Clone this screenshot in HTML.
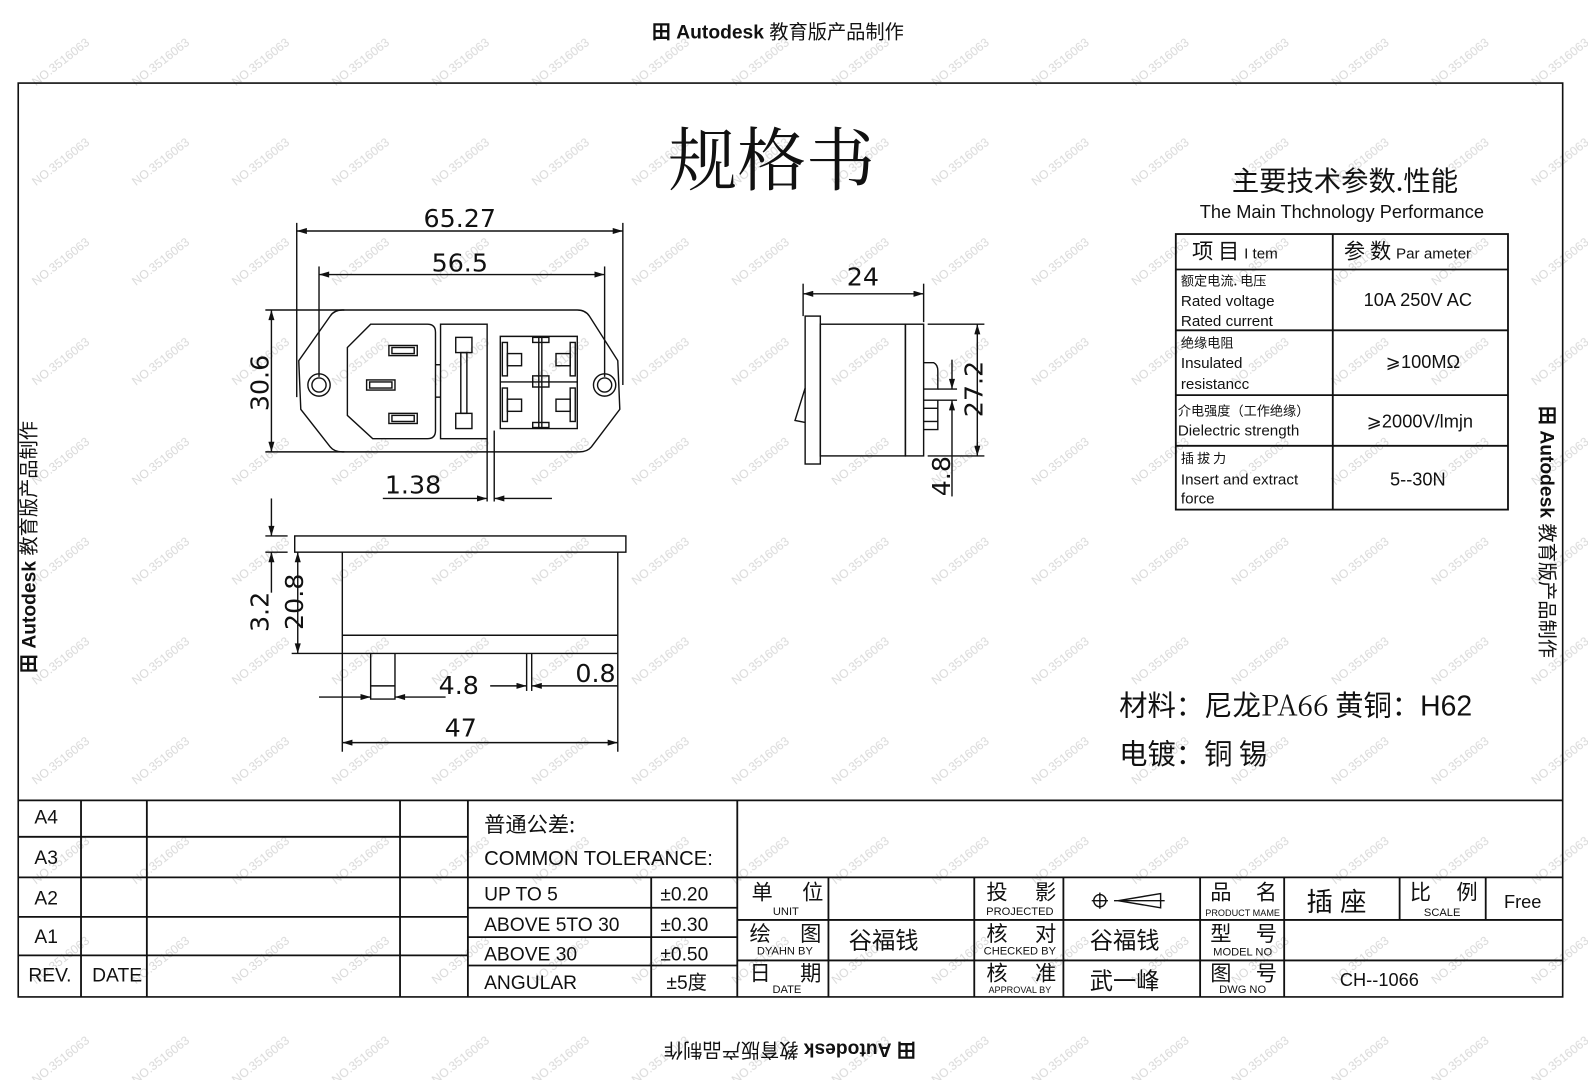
<!DOCTYPE html>
<html><head><meta charset="utf-8"><style>
html,body{margin:0;padding:0;background:#fff;}
svg{display:block;}
text{font-family:"Liberation Sans","Noto Sans CJK SC",sans-serif;fill:#111;}
.cj{font-family:"Noto Sans CJK SC","WenQuanYi Zen Hei",sans-serif;}
.sf{font-family:"Noto Serif CJK SC","Noto Sans CJK SC",serif;}
.dim{font-family:"DejaVu Sans","Liberation Sans",sans-serif;font-size:25px;}
</style></head><body>
<svg width="1588" height="1080" viewBox="0 0 1568 1066" preserveAspectRatio="none" xmlns="http://www.w3.org/2000/svg">
<defs>
<pattern id="wm" x="0" y="0" width="98.7" height="98.5" patternUnits="userSpaceOnUse">
<text x="20" y="70" transform="rotate(-38 50 55)" style="font-size:12px;fill:#d8d8d8">NO.3516063</text>
</pattern>
<marker id="a" viewBox="0 0 10 6" refX="10" refY="3" markerWidth="12" markerHeight="6" markerUnits="userSpaceOnUse" orient="auto-start-reverse"><path d="M0,0 L10,3 L0,6 z" fill="#111"/></marker>
</defs>
<rect width="1568" height="1066" fill="#fff"/>
<rect width="1568" height="1066" fill="url(#wm)"/>

<text x="768" y="38" text-anchor="middle" style="font-size:19px;font-weight:bold">田 Autodesk <tspan class="cj" style="font-weight:normal">教育版产品制作</tspan></text>
<text x="0" y="0" text-anchor="middle" transform="translate(780,1030) rotate(180)" style="font-size:19px;font-weight:bold">田 Autodesk <tspan class="cj" style="font-weight:normal">教育版产品制作</tspan></text>
<text x="0" y="0" text-anchor="middle" transform="translate(35,540) rotate(-90)" style="font-size:19px;font-weight:bold">田 Autodesk <tspan class="cj" style="font-weight:normal">教育版产品制作</tspan></text>
<text x="0" y="0" text-anchor="middle" transform="translate(1521,525) rotate(90)" style="font-size:19px;font-weight:bold">田 Autodesk <tspan class="cj" style="font-weight:normal">教育版产品制作</tspan></text>

<g stroke="#111" stroke-width="1.6" fill="none">
<rect x="18" y="82" width="1525" height="902"/>
</g>

<text x="762" y="182" text-anchor="middle" class="sf" style="font-size:68px">规格书</text>

<!-- front view -->
<g stroke="#111" stroke-width="1.4" fill="none">
<line x1="293" y1="228" x2="615" y2="228" marker-start="url(#a)" marker-end="url(#a)"/>
<line x1="293" y1="220" x2="293" y2="392"/><line x1="615" y1="220" x2="615" y2="380"/>
<line x1="315" y1="271" x2="597" y2="271" marker-start="url(#a)" marker-end="url(#a)"/>
<line x1="315" y1="263" x2="315" y2="372"/><line x1="597" y1="263" x2="597" y2="372"/>
<path d="M338,306 L570,306 Q578,306 582,312 L610,356 L612,404 L584,441 Q580,446 572,446 L338,446 Q330,446 326,441 L297,404 L295,356 L326,312 Q330,306 338,306 Z"/>
<circle cx="315" cy="380" r="11"/><circle cx="315" cy="380" r="7"/>
<circle cx="597" cy="380" r="11"/><circle cx="597" cy="380" r="7"/>
<line x1="268" y1="306" x2="268" y2="446" marker-start="url(#a)" marker-end="url(#a)"/>
<line x1="262" y1="306" x2="340" y2="306"/><line x1="262" y1="446" x2="340" y2="446"/>
<path d="M366,320 L422,320 Q430,320 430,328 L430,425 Q430,433 422,433 L368,433 L343,410 L343,343 Z"/>
<rect x="384" y="341" width="28" height="10"/><rect x="387" y="343" width="22" height="6"/>
<rect x="362" y="375" width="28" height="10"/><rect x="365" y="377" width="22" height="6"/>
<rect x="384" y="408" width="28" height="10"/><rect x="387" y="410" width="22" height="6"/>
<line x1="430" y1="360" x2="435" y2="360"/><line x1="430" y1="392" x2="435" y2="392"/>
<rect x="435" y="320" width="46" height="113"/>
<rect x="450" y="333" width="16" height="15"/><rect x="455" y="348" width="6" height="60"/><rect x="450" y="408" width="16" height="15"/>
<path d="M494,332 L570,332 L570,423 L494,423 Z"/>
<line x1="494" y1="377" x2="570" y2="377"/><line x1="532" y1="332" x2="532" y2="423"/><line x1="535" y1="332" x2="535" y2="423"/>
<rect x="496" y="338" width="5" height="33"/><rect x="563" y="338" width="5" height="33"/><rect x="496" y="383" width="5" height="33"/><rect x="563" y="383" width="5" height="33"/>
<rect x="501" y="349" width="14" height="12"/><rect x="549" y="349" width="14" height="12"/><rect x="501" y="394" width="14" height="12"/><rect x="549" y="394" width="14" height="12"/>
<rect x="526" y="333" width="16" height="5"/><rect x="526" y="371" width="16" height="11"/><rect x="526" y="417" width="16" height="5"/>
<line x1="481" y1="433" x2="481" y2="495"/><line x1="488" y1="425" x2="488" y2="495"/>
<line x1="378" y1="492" x2="481" y2="492" marker-end="url(#a)"/><line x1="545" y1="492" x2="488" y2="492" marker-end="url(#a)"/>
</g>
<text class="dim" text-anchor="middle" x="454" y="224">65.27</text>
<text class="dim" text-anchor="middle" x="454" y="268">56.5</text>
<text class="dim" text-anchor="middle" transform="translate(265,378) rotate(-90)">30.6</text>
<text class="dim" x="380" y="487">1.38</text>

<!-- bottom view -->
<g stroke="#111" stroke-width="1.4" fill="none">
<rect x="291" y="529" width="327" height="16"/>
<path d="M338,545 L338,645 L610,645 L610,545"/><line x1="338" y1="627" x2="610" y2="627"/>
<path d="M366,645 L366,690 L390,690 L390,645"/><line x1="366" y1="677" x2="390" y2="677"/>
<line x1="520" y1="645" x2="520" y2="682"/><line x1="525" y1="645" x2="525" y2="682"/>
<line x1="268" y1="492" x2="268" y2="529" marker-end="url(#a)"/><line x1="268" y1="585" x2="268" y2="545" marker-end="url(#a)"/>
<line x1="262" y1="529" x2="284" y2="529"/><line x1="262" y1="545" x2="284" y2="545"/>
<line x1="294" y1="545" x2="294" y2="645" marker-start="url(#a)" marker-end="url(#a)"/>
<line x1="288" y1="645" x2="338" y2="645"/>
<line x1="315" y1="688" x2="366" y2="688" marker-end="url(#a)"/><line x1="440" y1="688" x2="390" y2="688" marker-end="url(#a)"/>
<line x1="484" y1="677" x2="520" y2="677" marker-end="url(#a)"/><line x1="610" y1="677" x2="525" y2="677" marker-end="url(#a)"/>
<line x1="338" y1="645" x2="338" y2="742"/><line x1="610" y1="645" x2="610" y2="742"/>
<line x1="338" y1="733" x2="610" y2="733" marker-start="url(#a)" marker-end="url(#a)"/>
</g>
<text class="dim" text-anchor="middle" transform="translate(265,604) rotate(-90)">3.2</text>
<text class="dim" text-anchor="middle" transform="translate(299,594) rotate(-90)">20.8</text>
<text class="dim" text-anchor="middle" x="453" y="685">4.8</text>
<text class="dim" text-anchor="middle" x="588" y="673">0.8</text>
<text class="dim" text-anchor="middle" x="455" y="727">47</text>

<!-- side view -->
<g stroke="#111" stroke-width="1.4" fill="none">
<line x1="793" y1="290" x2="912" y2="290" marker-start="url(#a)" marker-end="url(#a)"/>
<line x1="793" y1="280" x2="793" y2="312"/><line x1="912" y1="280" x2="912" y2="318"/>
<rect x="795" y="312" width="15" height="146"/>
<path d="M795,383 L785,415 L795,417"/>
<rect x="810" y="320" width="84" height="130"/>
<rect x="894" y="320" width="18" height="130"/>
<path d="M912,358 L922,358 Q926,360 926,366 L926,384 L912,384"/>
<path d="M912,395 L926,395 L926,424 L912,424"/><line x1="912" y1="403" x2="926" y2="403"/><line x1="912" y1="416" x2="926" y2="416"/>
<line x1="916" y1="320" x2="972" y2="320"/><line x1="916" y1="450" x2="972" y2="450"/>
<line x1="965" y1="320" x2="965" y2="450" marker-start="url(#a)" marker-end="url(#a)"/>
<line x1="926" y1="384" x2="945" y2="384"/><line x1="926" y1="395" x2="945" y2="395"/>
<line x1="940" y1="355" x2="940" y2="384" marker-end="url(#a)"/><line x1="940" y1="490" x2="940" y2="395" marker-end="url(#a)"/>
</g>
<text class="dim" text-anchor="middle" x="852" y="282">24</text>
<text class="dim" text-anchor="middle" transform="translate(970,384) rotate(-90)">27.2</text>
<text class="dim" text-anchor="middle" transform="translate(938,470) rotate(-90)">4.8</text>

<!-- spec table -->
<text x="1328" y="188" text-anchor="middle" class="cj" style="font-size:27px">主要技术参数.性能</text>
<text x="1325" y="215" text-anchor="middle" style="font-size:18px">The Main Thchnology  Performance</text>
<g stroke="#111" stroke-width="1.8" fill="none">
<rect x="1161" y="231" width="328" height="272"/>
<line x1="1316" y1="231" x2="1316" y2="503"/>
<line x1="1161" y1="266" x2="1489" y2="266"/><line x1="1161" y1="326" x2="1489" y2="326"/>
<line x1="1161" y1="390" x2="1489" y2="390"/><line x1="1161" y1="440" x2="1489" y2="440"/>
</g>
<text x="1177" y="255" class="cj" style="font-size:21px">项 目 <tspan style="font-size:15px" font-family="Liberation Sans">I tem</tspan></text>
<text x="1327" y="255" class="cj" style="font-size:21px">参 数 <tspan style="font-size:15px" font-family="Liberation Sans">Par ameter</tspan></text>
<g style="font-size:15px">
<text x="1166" y="282" class="cj" style="font-size:13px">额定电流. 电压</text>
<text x="1166" y="302">Rated  voltage</text>
<text x="1166" y="322">Rated  current</text>
<text x="1166" y="343" class="cj" style="font-size:13px">绝缘电阻</text>
<text x="1166" y="363">Insulated</text>
<text x="1166" y="384">resistancc</text>
<text x="1163" y="410" class="cj" style="font-size:13px">介电强度（工作绝缘）</text>
<text x="1163" y="430">Dielectric  strength</text>
<text x="1166" y="457" class="cj" style="font-size:13px">插 拔 力</text>
<text x="1166" y="478">Insert  and   extract</text>
<text x="1166" y="497">force</text>
</g>
<g style="font-size:18px" text-anchor="middle">
<text x="1400" y="302">10A  250V  AC</text>
<text x="1405" y="363">⩾100MΩ</text>
<text x="1402" y="422">⩾2000V/lmjn</text>
<text x="1400" y="479">5--30N</text>
</g>

<text x="1105" y="706" class="cj" style="font-size:28px">材料：尼龙<tspan class="sf">PA66</tspan> 黄铜：<tspan font-family="Liberation Sans">H62</tspan></text>
<text x="1105" y="754" class="cj" style="font-size:28px">电镀：铜 锡</text>

<!-- title block -->
<g stroke="#111" stroke-width="1.8" fill="none">
<line x1="18" y1="790" x2="1543" y2="790"/>
<line x1="18" y1="826" x2="462" y2="826"/><line x1="18" y1="866" x2="1543" y2="866"/>
<line x1="18" y1="905" x2="462" y2="905"/><line x1="18" y1="943" x2="462" y2="943"/>
<line x1="80" y1="790" x2="80" y2="984"/><line x1="145" y1="790" x2="145" y2="984"/>
<line x1="395" y1="790" x2="395" y2="984"/><line x1="462" y1="790" x2="462" y2="984"/>
<line x1="728" y1="790" x2="728" y2="984"/>
<line x1="462" y1="896" x2="728" y2="896"/><line x1="462" y1="925" x2="728" y2="925"/><line x1="462" y1="953" x2="728" y2="953"/>
<line x1="643" y1="866" x2="643" y2="984"/>
<line x1="728" y1="908" x2="1543" y2="908"/><line x1="728" y1="948" x2="1543" y2="948"/>
<line x1="818" y1="866" x2="818" y2="984"/><line x1="962" y1="866" x2="962" y2="984"/>
<line x1="1050" y1="866" x2="1050" y2="984"/><line x1="1185" y1="866" x2="1185" y2="984"/>
<line x1="1268" y1="866" x2="1268" y2="984"/><line x1="1382" y1="866" x2="1382" y2="908"/><line x1="1467" y1="866" x2="1467" y2="908"/>
</g>
<g style="font-size:19px">
<text x="34" y="813">A4</text><text x="34" y="853">A3</text><text x="34" y="893">A2</text><text x="34" y="931">A1</text>
<text x="28" y="969">REV.</text><text x="91" y="969">DATE</text>
<text x="478" y="821" class="cj" style="font-size:21px">普通公差:</text>
<text x="478" y="854" style="font-size:20px">COMMON TOLERANCE:</text>
<text x="478" y="889">UP TO 5</text><text x="478" y="919">ABOVE 5TO 30</text>
<text x="478" y="948">ABOVE 30</text><text x="478" y="976">ANGULAR</text>
<text x="652" y="889">±0.20</text><text x="652" y="919">±0.30</text><text x="652" y="948">±0.50</text>
<text x="658" y="976">±5<tspan class="cj">度</tspan></text>
</g>
<g class="cj" style="font-size:21px">
<text x="742" y="888">单</text><text x="792" y="888">位</text>
<text x="740" y="929">绘</text><text x="790" y="929">图</text>
<text x="740" y="968">日</text><text x="790" y="968">期</text>
<text x="974" y="888">投</text><text x="1022" y="888">影</text>
<text x="974" y="929">核</text><text x="1022" y="929">对</text>
<text x="974" y="968">核</text><text x="1022" y="968">准</text>
<text x="1195" y="888">品</text><text x="1240" y="888">名</text>
<text x="1195" y="929">型</text><text x="1240" y="929">号</text>
<text x="1195" y="968">图</text><text x="1240" y="968">号</text>
<text x="1392" y="888">比</text><text x="1438" y="888">例</text>
<text x="838" y="936" style="font-size:23px">谷福钱</text>
<text x="1076" y="936" style="font-size:23px">谷福钱</text>
<text x="1076" y="976" style="font-size:23px">武一峰</text>
<text x="1290" y="899" style="font-size:26px">插 座</text>
</g>
<g style="font-size:11px" text-anchor="middle">
<text x="776" y="903">UNIT</text><text x="775" y="942">DYAHN  BY</text><text x="777" y="980">DATE</text>
<text x="1007" y="903">PROJECTED</text><text x="1007" y="942">CHECKED BY</text><text x="1007" y="980" style="font-size:9px">APPROVAL BY</text>
<text x="1227" y="904" style="font-size:9px">PRODUCT MAME</text><text x="1227" y="943">MODEL NO</text><text x="1227" y="980">DWG  NO</text>
<text x="1424" y="904">SCALE</text>
</g>
<text x="1485" y="896" style="font-size:18px">Free</text>
<text x="1323" y="973" style="font-size:18px">CH--1066</text>
<g stroke="#111" stroke-width="1.4" fill="none">
<circle cx="1086" cy="889" r="6"/><line x1="1078" y1="889" x2="1094" y2="889"/><line x1="1086" y1="881" x2="1086" y2="897"/>
<path d="M1146,882 L1104,889 L1146,896 Z"/><line x1="1100" y1="889" x2="1150" y2="889"/>
</g>
</svg>
</body></html>
